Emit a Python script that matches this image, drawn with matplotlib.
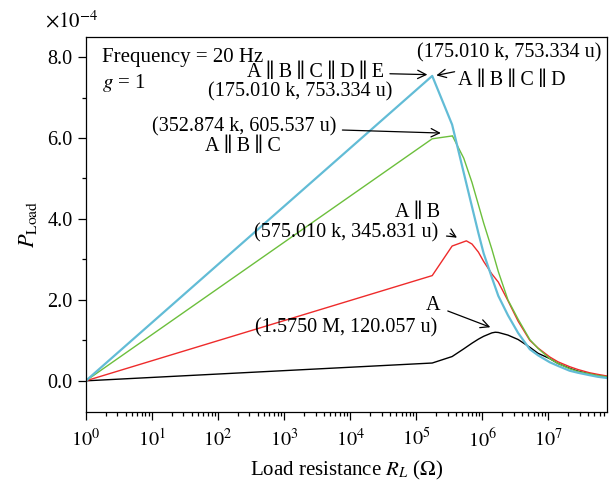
import numpy as np
import matplotlib.pyplot as plt

plt.rcParams['font.family'] = ['Liberation Serif', 'DejaVu Serif']
plt.rcParams['mathtext.fontset'] = 'stix'

# load resistance samples (ohm)
r_grid = [1, 175010, 350019, 525028, 700037, 875046, 1.05e6, 1.4e6, 1.75e6,
          2.45e6, 3.5e6, 5.25e6, 7e6, 1.05e7, 1.4e7, 2.1e7, 2.8e7, 4.2e7,
          5.6e7, 7.7e7]

# power delivered to the load, in units of 1e-4 W
p_abcde = [0, 7.53334, 6.33, 5.14, 4.30, 3.65, 3.15, 2.55, 2.10, 1.62, 1.18,
           0.78, 0.63, 0.46, 0.37, 0.25, 0.20, 0.14, 0.10, 0.07]
p_abc = [0, 5.98, 6.05, 5.50, 4.90, 4.35, 3.90, 3.25, 2.70, 2.00, 1.52,
         1.02, 0.80, 0.55, 0.43, 0.30, 0.23, 0.17, 0.13, 0.10]
p_ab = [0, 2.60, 3.33, 3.45, 3.38, 3.18, 2.95, 2.64, 2.44, 1.98, 1.47,
        1.00, 0.81, 0.59, 0.47, 0.35, 0.28, 0.20, 0.16, 0.12]
p_a = [0, 0.44, 0.60, 0.79, 0.93, 1.03, 1.10, 1.185, 1.195, 1.13, 1.02,
       0.83, 0.68, 0.55, 0.43, 0.31, 0.24, 0.17, 0.13, 0.10]

# peak points of each configuration
r_abc_pk, p_abc_pk = 352874, 6.05537
r_ab_pk, p_ab_pk = 575010, 3.45831
r_a_pk, p_a_pk = 1.5750e6, 1.20057


def with_peak(r, p, r_pk, p_pk):
    r = list(r) + [r_pk]
    p = list(p) + [p_pk]
    order = np.argsort(r)
    return np.array(r)[order], np.array(p)[order]


r_abc, p_abc_s = with_peak(r_grid, p_abc, r_abc_pk, p_abc_pk)
r_ab, p_ab_s = with_peak(r_grid[:3] + r_grid[4:], p_ab[:3] + p_ab[4:], r_ab_pk, p_ab_pk)
r_a, p_a_s = with_peak(r_grid, p_a, r_a_pk, p_a_pk)

fig = plt.figure(figsize=(6.13, 4.83), dpi=100)
ax = fig.add_axes([0.140, 0.147, 0.850, 0.776])

ax.plot(r_a, p_a_s, color='black', lw=1.0)
ax.plot(r_ab, p_ab_s, color='#ee2b2b', lw=1.0)
ax.plot(r_abc, p_abc_s, color='#6cbf3c', lw=1.0)
ax.plot(r_grid, p_abcde, color='#62bcd6', lw=1.6)

ax.set_xscale('log')
ax.set_xlim(1, 7.7e7)
ax.set_ylim(-0.77, 8.49)
ax.set_yticks([0, 2, 4, 6, 8])
ax.set_yticks([1, 3, 5, 7], minor=True)
ax.set_yticklabels(['0.0', '2.0', '4.0', '6.0', '8.0'])
ax.set_xticks([10.0 ** k for k in range(8)])
ax.set_xticklabels([rf'$10^{{{k}}}$' for k in range(8)])
ax.tick_params(axis='both', which='both', direction='out', labelsize=14.5,
               top=False, right=False)
ax.tick_params(axis='x', pad=6)
ax.tick_params(which='major', length=6, width=0.9)
ax.tick_params(which='minor', length=3, width=0.9)
for s in ax.spines.values():
    s.set_linewidth(0.9)

ax.set_xlabel(r'Load resistance $R_L$ ($\Omega$)', fontsize=15, labelpad=5)
ax.set_ylabel(r'$P_{\mathrm{Load}}$', fontsize=16, labelpad=6)
fig.text(0.074, 0.955, r'$\times10^{-4}$', fontsize=15, va='center')

ax.text(1.75, 7.99, 'Frequency = 20 Hz', fontsize=15, va='center')
ax.text(1.75, 7.37, r'$g$ = 1', fontsize=15, va='center')

arw = dict(arrowstyle='->', color='black', lw=0.9, mutation_scale=15)
fs = 14.5
par = '\u2009\u2225\u2009'

# A||B||C||D||E and A||B||C||D share the same peak
ax.text(2.6e6, 8.1, '(175.010 k, 753.334 u)', fontsize=fs,
        ha='center', va='center')
ax.annotate('', xy=(r_grid[1] * 1.05, p_abcde[1]), xytext=(4.2e5, 7.65),
            arrowprops=arw)
ax.text(4.3e5, 7.43, par.join('ABCD'), fontsize=fs, va='center')
ax.annotate(par.join('ABCDE'), xy=(r_grid[1] * 0.93, p_abcde[1] + 0.03),
            xytext=(3.3e4, 7.63), fontsize=fs, ha='right', va='center',
            arrowprops=arw)
ax.text(1.75e3, 7.14, '(175.010 k, 753.334 u)', fontsize=fs,
        ha='center', va='center')

ax.annotate('(352.874 k, 605.537 u)', xy=(2.6e5, 6.12),
            xytext=(6.3e3, 6.27), fontsize=fs, ha='right', va='center',
            arrowprops=arw)
ax.text(236, 5.78, par.join('ABC'), fontsize=fs, ha='center', va='center')

ax.text(2.3e5, 4.17, par.join('AB'), fontsize=fs, ha='right', va='center')
ax.annotate('', xy=(4.5e5, 3.5), xytext=(3.0e5, 3.68), arrowprops=arw)
ax.text(2.15e5, 3.65, '(575.010 k, 345.831 u)', fontsize=fs, ha='right',
        va='center')

ax.annotate('', xy=(1.45e6, 1.30), xytext=(2.75e5, 1.75), arrowprops=arw)
ax.text(2.3e5, 1.85, 'A', fontsize=fs, ha='right', va='center')
ax.text(2.1e5, 1.31, '(1.5750 M, 120.057 u)', fontsize=fs, ha='right',
        va='center')

fig.savefig('out.png', dpi=100)
